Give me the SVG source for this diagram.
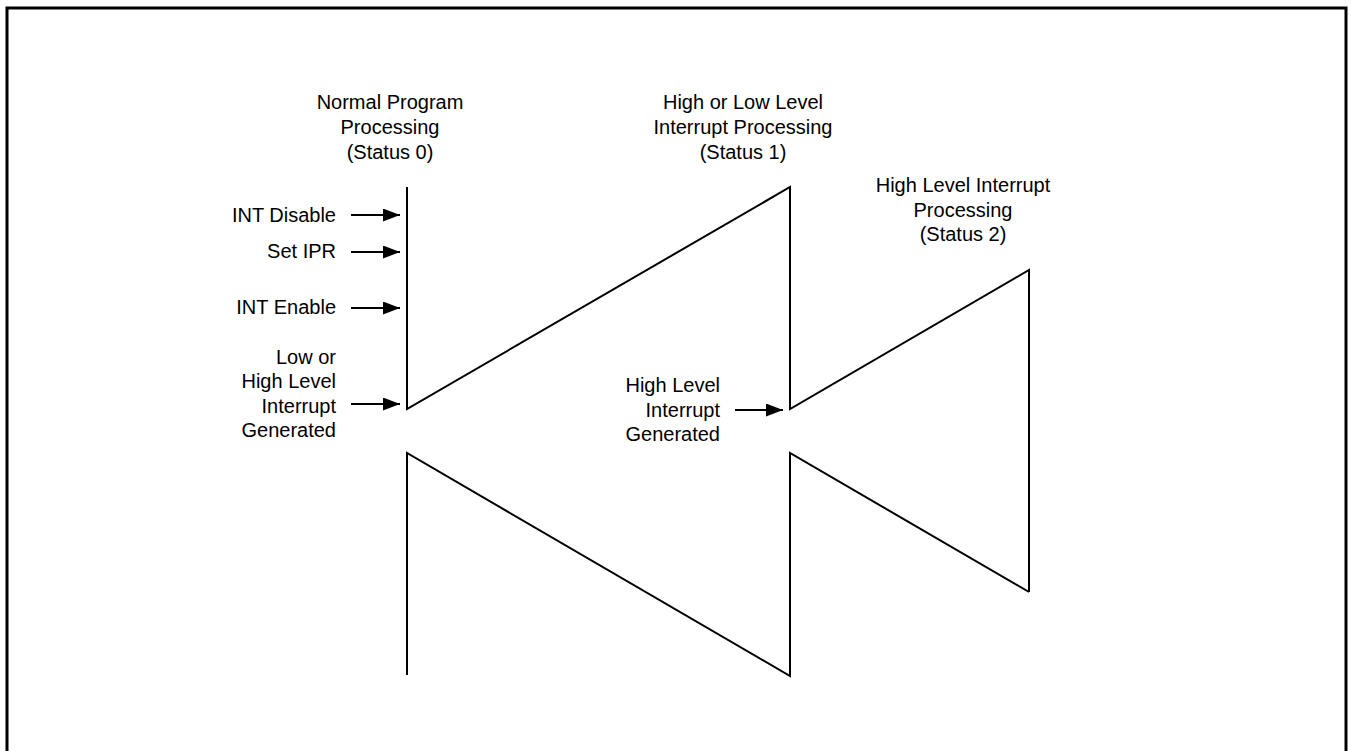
<svg xmlns="http://www.w3.org/2000/svg" width="1351" height="751" viewBox="0 0 1351 751">
<style>
text{font-family:"Liberation Sans",Arial,sans-serif;font-size:20px;fill:#000}
.m{text-anchor:middle}
.e{text-anchor:end}
.ln{fill:none;stroke:#000;stroke-width:2}
</style>
<defs>
<marker id="ah" viewBox="0 0 10 10" refX="10" refY="5" markerWidth="17" markerHeight="13" markerUnits="userSpaceOnUse" orient="auto" preserveAspectRatio="none"><path d="M0,0L10,5L0,10z" fill="#000"/></marker>
</defs>
<rect x="7" y="8" width="1339" height="770" fill="#fff" stroke="#000" stroke-width="3"/>
<g id="status0">
<text class="m" x="390" y="109">Normal Program</text>
<text class="m" x="390" y="134">Processing</text>
<text class="m" x="390" y="159">(Status 0)</text>
</g>
<g id="status1">
<text class="m" x="743" y="109">High or Low Level</text>
<text class="m" x="743" y="134">Interrupt Processing</text>
<text class="m" x="743" y="159">(Status 1)</text>
</g>
<g id="status2">
<text class="m" x="963" y="192">High Level Interrupt</text>
<text class="m" x="963" y="217">Processing</text>
<text class="m" x="963" y="241">(Status 2)</text>
</g>
<g id="labels-left">
<text class="e" x="336" y="222">INT Disable</text>
<text class="e" x="336" y="258">Set IPR</text>
<text class="e" x="336" y="314">INT Enable</text>
<text class="e" x="336" y="364">Low or</text>
<text class="e" x="336" y="388">High Level</text>
<text class="e" x="336" y="413">Interrupt</text>
<text class="e" x="336" y="437">Generated</text>
</g>
<g id="label-mid">
<text class="e" x="720" y="392">High Level</text>
<text class="e" x="720" y="417">Interrupt</text>
<text class="e" x="720" y="441">Generated</text>
</g>
<g id="connectors">
<path class="ln" d="M407,187V409L790,187V409L1029,270V592"/>
<path class="ln" d="M407,675V453L790,676V453L1029,592"/>
<line class="ln" x1="351" y1="215" x2="400" y2="215" marker-end="url(#ah)"/>
<line class="ln" x1="351" y1="252" x2="400" y2="252" marker-end="url(#ah)"/>
<line class="ln" x1="351" y1="308" x2="400" y2="308" marker-end="url(#ah)"/>
<line class="ln" x1="351" y1="404" x2="400" y2="404" marker-end="url(#ah)"/>
<line class="ln" x1="735" y1="410" x2="783" y2="410" marker-end="url(#ah)"/>
</g>
</svg>
